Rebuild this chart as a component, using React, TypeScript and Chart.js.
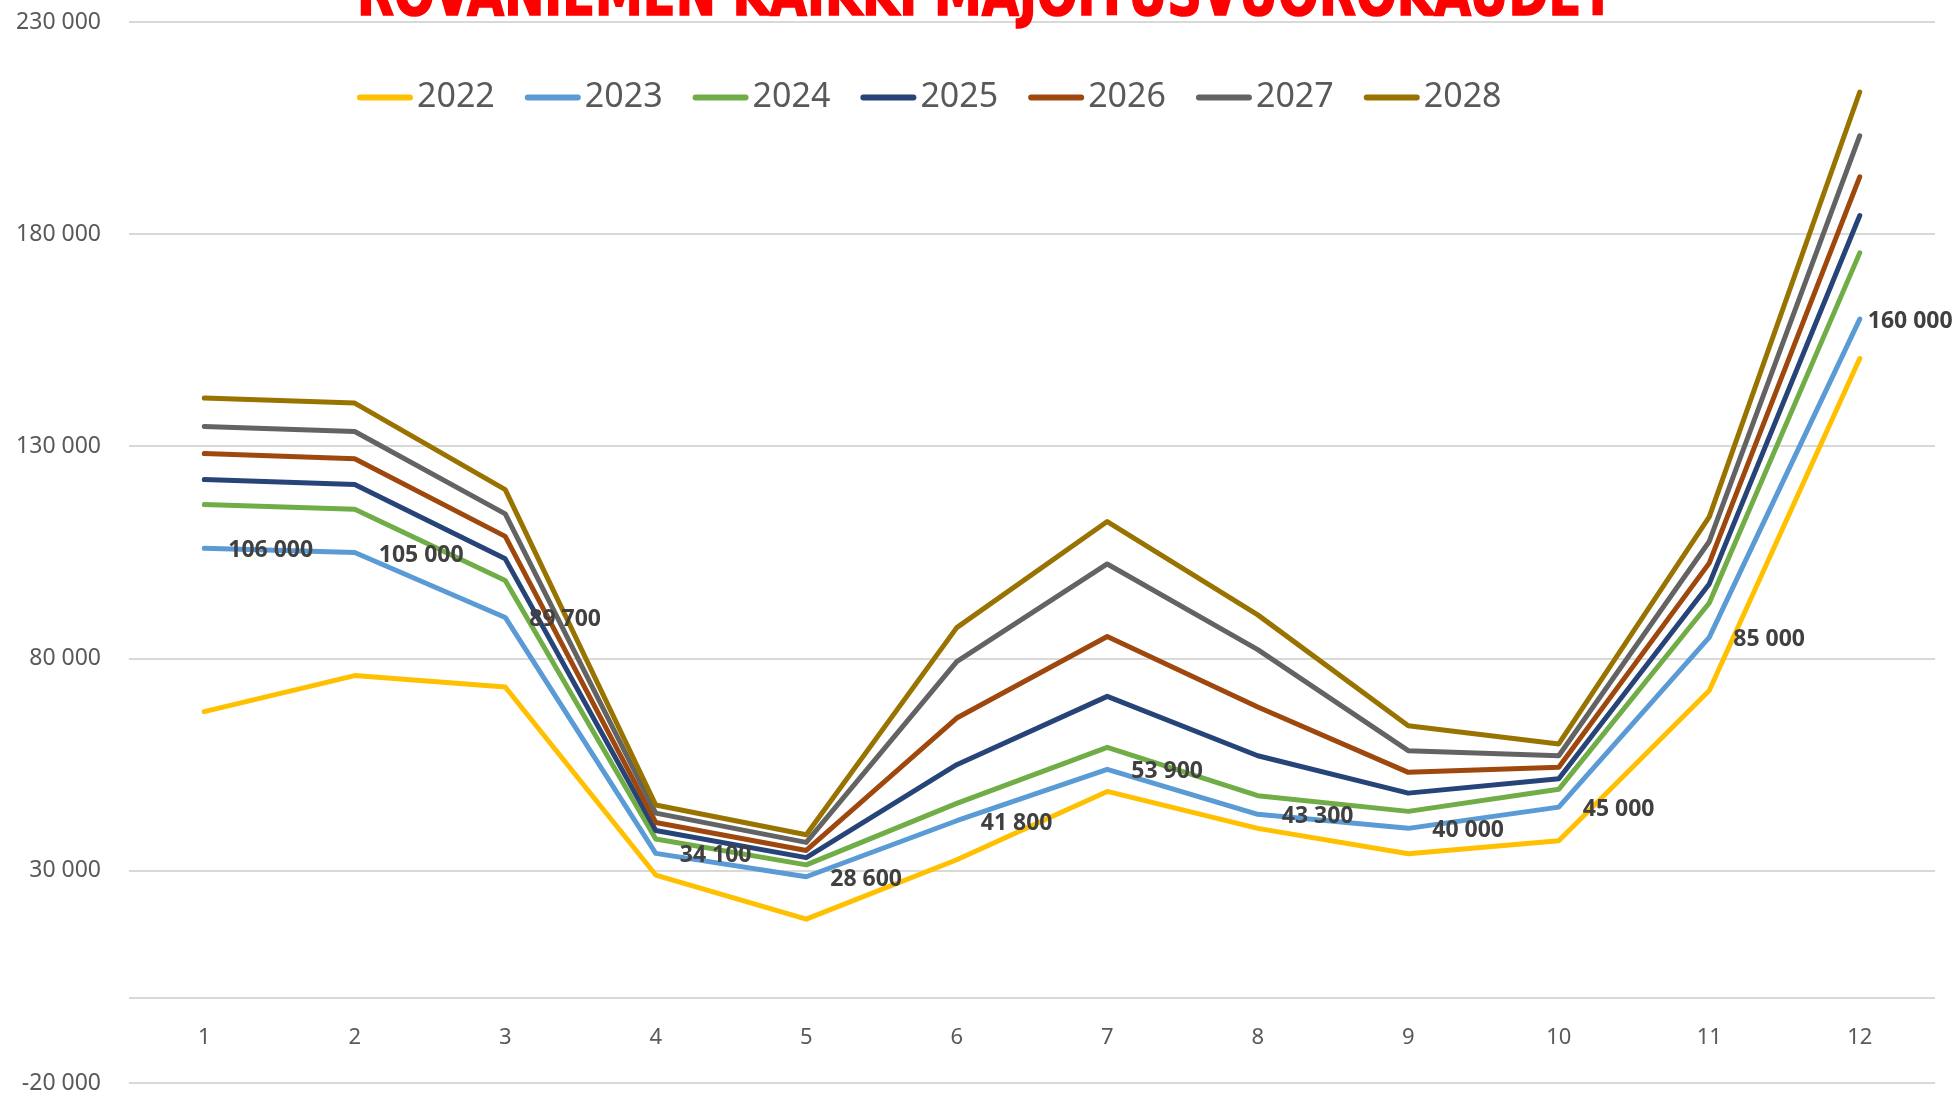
import React, { useEffect, useRef } from "react";
import { Chart, registerables } from "chart.js";

Chart.register(...registerables);

const TITLE = "ROVANIEMEN KAIKKI MAJOITUSVUOROKAUDET";
const months = ["1", "2", "3", "4", "5", "6", "7", "8", "9", "10", "11", "12"];
const years = ["2022", "2023", "2024", "2025", "2026", "2027", "2028"];
const colors = ["#FFC000", "#5B9BD5", "#70AD47", "#264478", "#9E480E", "#636363", "#997300"];

const s2022 = [67500, 76000, 73300, 29000, 18600, 32600, 48700, 40000, 34000, 37100, 72500, 150700];
const s2023 = [106000, 105000, 89700, 34100, 28600, 41800, 53900, 43300, 40000, 45000, 85000, 160000];
const s2024 = [116300, 115200, 98400, 37500, 31400, 45900, 59100, 47700, 44000, 49200, 93100, 175600];
const s2025 = [122200, 121000, 103500, 39500, 33100, 55000, 71100, 57100, 48300, 51700, 97600, 184400];
const s2026 = [128300, 127100, 108800, 41400, 34800, 66000, 85200, 68600, 53200, 54400, 102500, 193500];
const s2027 = [134700, 133500, 114100, 43600, 36700, 79300, 102300, 82100, 58300, 57100, 107600, 203200];
const s2028 = [141400, 140200, 119800, 45500, 38500, 87300, 112300, 90300, 64200, 59900, 113400, 213500];

const series = [s2022, s2023, s2024, s2025, s2026, s2027, s2028];
const labelledSeries = 1; // 2023 carries data labels

const yMin = -20000;
const yMax = 230000;
const yStep = 50000;
const PAD_RIGHT = 24;

function fmt(v: number): string {
  const neg = v < 0;
  const s = Math.abs(Math.round(v)).toString().replace(/\B(?=(\d{3})+(?!\d))/g, " ");
  return (neg ? "-" : "") + s;
}

const overlayPlugin = {
  id: "overlay",
  beforeDatasetsDraw(chart: any) {
    const ctx = chart.ctx;
    const xs = chart.scales.x;
    const ys = chart.scales.y;
    const left = chart.chartArea.left;
    const right = chart.width - PAD_RIGHT;
    ctx.save();
    ctx.strokeStyle = "#D9D9D9";
    ctx.lineWidth = 2;
    ys.ticks.forEach((t: any) => {
      const y = Math.round(ys.getPixelForValue(t.value));
      ctx.beginPath();
      ctx.moveTo(left, y);
      ctx.lineTo(right, y);
      ctx.stroke();
    });
    const y0 = Math.round(ys.getPixelForValue(0));
    ctx.beginPath();
    ctx.moveTo(left, y0);
    ctx.lineTo(right, y0);
    ctx.stroke();
    ctx.font = '22px "Noto Sans", sans-serif';
    ctx.fillStyle = "#595959";
    ctx.textAlign = "center";
    ctx.textBaseline = "alphabetic";
    months.forEach((m, i) => {
      ctx.fillText(m, xs.getPixelForValue(i), y0 + 38 + 8);
    });
    ctx.restore();
  },
  afterDatasetsDraw(chart: any) {
    const ctx = chart.ctx;
    const meta = chart.getDatasetMeta(labelledSeries);
    ctx.save();
    ctx.font = 'bold 23px "Noto Sans", sans-serif';
    ctx.fillStyle = "#404040";
    ctx.textAlign = "left";
    ctx.textBaseline = "alphabetic";
    meta.data.forEach((pt: any, i: number) => {
      const dx = i === meta.data.length - 1 ? 8 : 24;
      ctx.fillText(fmt(series[labelledSeries][i]), pt.x + dx, pt.y + 9);
    });
    ctx.restore();
  },
  afterDraw(chart: any) {
    const ctx = chart.ctx;
    ctx.save();
    ctx.font = 'bold 62px "Liberation Sans Narrow", "DejaVu Sans Condensed", "Liberation Sans", sans-serif';
    ctx.fillStyle = "#FF0000";
    ctx.strokeStyle = "#FF0000";
    ctx.lineWidth = 1.5;
    ctx.textBaseline = "alphabetic";
    ctx.textAlign = "left";
    const w = ctx.measureText(TITLE).width;
    const target = 1257;
    ctx.translate(357, 15);
    ctx.scale(target / w, 1);
    ctx.fillText(TITLE, 0, 0);
    ctx.strokeText(TITLE, 0, 0);
    ctx.restore();

    ctx.save();
    ctx.font = '34px "Noto Sans", sans-serif';
    ctx.textBaseline = "alphabetic";
    ctx.textAlign = "left";
    let x = 357;
    const lineY = 97.5;
    years.forEach((yr, i) => {
      ctx.strokeStyle = colors[i];
      ctx.lineWidth = 6;
      ctx.lineCap = "round";
      ctx.beginPath();
      ctx.moveTo(x + 3, lineY);
      ctx.lineTo(x + 53, lineY);
      ctx.stroke();
      ctx.fillStyle = "#595959";
      ctx.fillText(yr, x + 60, 107);
      x += 60 + ctx.measureText(yr).width + 30;
    });
    ctx.restore();
  },
};

export default function App() {
  const ref = useRef<HTMLCanvasElement | null>(null);
  useEffect(() => {
    if (!ref.current) return;
    const datasets = years.map((yr, i) => ({
      label: yr,
      data: series[i],
      borderColor: colors[i],
      backgroundColor: colors[i],
      borderWidth: 5,
      pointRadius: 0,
      pointHoverRadius: 0,
      borderCapStyle: "round" as const,
      borderJoinStyle: "round" as const,
      tension: 0,
      clip: false as const,
      order: years.length - i,
    }));
    const chart = new Chart(ref.current, {
      type: "line",
      data: { labels: months, datasets },
      plugins: [overlayPlugin],
      options: {
        animation: false,
        responsive: true,
        maintainAspectRatio: false,
        layout: { autoPadding: false, padding: { left: 0, top: 22, right: PAD_RIGHT, bottom: 20 } },
        plugins: {
          legend: { display: false },
          title: { display: false },
          tooltip: { enabled: false },
        },
        scales: {
          x: {
            display: false,
            offset: true,
          },
          y: {
            min: yMin,
            max: yMax,
            afterFit: (s: any) => {
              s.width = 129;
              s.paddingTop = 0;
              s.paddingBottom = 0;
              s.paddingLeft = 0;
              s.paddingRight = 0;
            },
            grid: { display: false, drawTicks: false },
            border: { display: false },
            ticks: {
              stepSize: yStep,
              color: "#595959",
              font: { family: '"Noto Sans", sans-serif', size: 23 },
              padding: 28,
              callback: (v: any) => fmt(Number(v)),
            },
          },
        },
      },
    });
    return () => chart.destroy();
  }, []);
  return (
    <div style={{ position: "fixed", left: 0, top: 0, width: "1959px", height: "1103px", background: "#fff" }}>
      <canvas ref={ref} />
    </div>
  );
}
